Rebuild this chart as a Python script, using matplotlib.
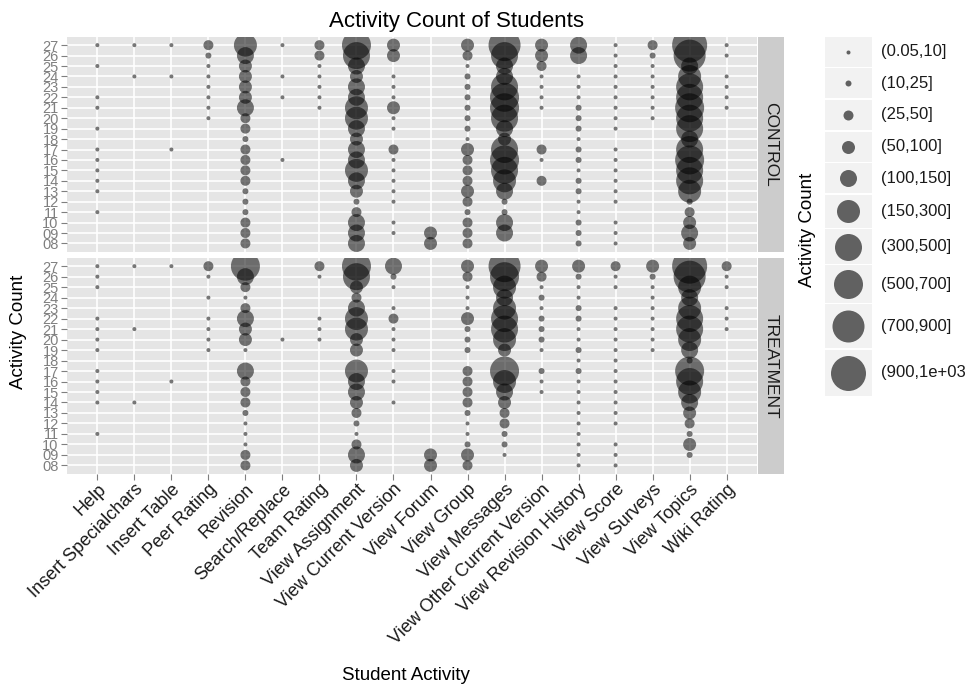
import numpy as np
import pandas as pd
import matplotlib
matplotlib.use("Agg")
import matplotlib.pyplot as plt
from matplotlib.patches import Rectangle

plt.rcParams['font.family'] = ['Liberation Sans', 'DejaVu Sans']

# ---------------- data ----------------
activities = ["Help", "Insert Specialchars", "Insert Table", "Peer Rating", "Revision",
              "Search/Replace", "Team Rating", "View Assignment", "View Current Version",
              "View Forum", "View Group", "View Messages", "View Other Current Version",
              "View Revision History", "View Score", "View Surveys", "View Topics", "Wiki Rating"]

# students listed from top (27) to bottom (08)
students = ["27", "26", "25", "24", "23", "22", "21", "20", "19", "18",
            "17", "16", "15", "14", "13", "12", "11", "10", "09", "08"]

groups = ["CONTROL", "TREATMENT"]

bin_edges = [0.05, 10, 25, 50, 100, 150, 300, 500, 700, 900, 1000]
bin_labels = ["(0.05,10]", "(10,25]", "(25,50]", "(50,100]", "(100,150]",
              "(150,300]", "(300,500]", "(500,700]", "(700,900]", "(900,1e+03"]

# activity counts per activity (rows) and student (columns, 27 -> 08)
control_counts = [
    [6, 0, 6, 0, 0, 6, 6, 0, 6, 0, 6, 6, 6, 6, 6, 0, 6, 0, 0, 0],                                  # Help
    [6, 0, 0, 6, 0, 0, 0, 0, 0, 0, 0, 0, 0, 0, 0, 0, 0, 0, 0, 0],                                  # Insert Specialchars
    [6, 0, 0, 6, 0, 0, 0, 0, 0, 0, 6, 0, 0, 0, 0, 0, 0, 0, 0, 0],                                  # Insert Table
    [40, 18, 6, 6, 6, 6, 6, 6, 0, 0, 0, 0, 0, 0, 0, 0, 0, 0, 0, 0],                                # Peer Rating
    [220, 130, 75, 75, 75, 75, 130, 40, 40, 18, 40, 40, 40, 40, 18, 18, 18, 40, 40, 40],           # Revision
    [6, 0, 0, 6, 0, 6, 0, 0, 0, 0, 0, 6, 0, 0, 0, 0, 0, 0, 0, 0],                                  # Search/Replace
    [40, 40, 6, 6, 6, 6, 6, 0, 0, 0, 0, 0, 0, 0, 0, 0, 0, 0, 0, 0],                                # Team Rating
    [600, 400, 130, 75, 130, 130, 220, 220, 130, 75, 130, 130, 220, 130, 75, 18, 40, 130, 130, 130],  # View Assignment
    [75, 75, 0, 6, 6, 6, 75, 6, 6, 0, 40, 6, 6, 6, 6, 6, 0, 6, 6, 0],                              # View Current Version
    [0, 0, 0, 0, 0, 0, 0, 0, 0, 0, 0, 0, 0, 0, 0, 0, 0, 0, 75, 75],                                # View Forum
    [75, 40, 6, 18, 18, 18, 18, 18, 18, 6, 75, 40, 40, 40, 75, 40, 18, 40, 40, 40],                # View Group
    [800, 400, 130, 130, 400, 600, 600, 400, 130, 75, 400, 600, 400, 220, 130, 18, 18, 130, 130, 0],  # View Messages
    [75, 75, 40, 6, 6, 6, 6, 0, 0, 0, 40, 6, 0, 40, 0, 0, 0, 0, 0, 0],                             # View Other Current Version
    [130, 130, 0, 6, 6, 6, 18, 18, 18, 6, 18, 18, 6, 18, 18, 6, 6, 18, 18, 18],                    # View Revision History
    [6, 6, 6, 6, 6, 6, 6, 6, 6, 0, 6, 6, 6, 6, 6, 6, 0, 6, 6, 6],                                  # View Score
    [40, 18, 6, 6, 6, 6, 6, 6, 0, 0, 0, 0, 0, 0, 0, 0, 0, 0, 0, 0],                                # View Surveys
    [950, 800, 130, 220, 400, 400, 600, 400, 400, 130, 400, 600, 400, 400, 220, 18, 40, 75, 130, 75],  # View Topics
    [6, 6, 0, 6, 6, 6, 6, 0, 0, 0, 0, 0, 0, 0, 0, 0, 0, 0, 0, 0],                                  # Wiki Rating
]

treatment_counts = [
    [6, 6, 6, 0, 0, 6, 6, 6, 6, 0, 6, 6, 6, 6, 0, 0, 6, 0, 0, 0],                                  # Help
    [6, 0, 0, 0, 0, 0, 6, 0, 0, 0, 0, 0, 0, 6, 0, 0, 0, 0, 0, 0],                                  # Insert Specialchars
    [6, 0, 0, 0, 0, 0, 0, 0, 0, 0, 0, 6, 0, 0, 0, 0, 0, 0, 0, 0],                                  # Insert Table
    [40, 6, 0, 6, 0, 6, 6, 6, 6, 0, 0, 0, 0, 0, 0, 0, 0, 0, 0, 0],                                 # Peer Rating
    [600, 130, 40, 6, 40, 130, 75, 75, 6, 0, 130, 40, 40, 40, 18, 6, 6, 6, 40, 40],                # Revision
    [0, 0, 0, 0, 0, 0, 0, 6, 0, 0, 0, 0, 0, 0, 0, 0, 0, 0, 0, 0],                                  # Search/Replace
    [40, 6, 0, 0, 0, 6, 6, 6, 0, 0, 0, 0, 0, 0, 0, 0, 0, 0, 0, 0],                                 # Team Rating
    [600, 400, 75, 40, 130, 220, 220, 75, 75, 0, 220, 130, 130, 75, 40, 18, 6, 40, 130, 75],       # View Assignment
    [130, 18, 6, 0, 6, 40, 6, 6, 6, 0, 6, 6, 0, 6, 0, 0, 0, 0, 0, 0],                              # View Current Version
    [0, 0, 0, 0, 0, 0, 0, 0, 0, 0, 0, 0, 0, 0, 0, 0, 0, 0, 75, 75],                                # View Forum
    [75, 40, 6, 6, 6, 75, 18, 18, 18, 0, 40, 40, 40, 40, 18, 6, 6, 18, 75, 40],                    # View Group
    [800, 600, 220, 130, 220, 400, 400, 220, 75, 0, 600, 220, 130, 75, 40, 40, 18, 18, 6, 0],      # View Messages
    [75, 40, 6, 18, 6, 18, 18, 18, 6, 0, 18, 6, 6, 0, 0, 0, 0, 0, 0, 0],                           # View Other Current Version
    [75, 18, 6, 6, 18, 18, 6, 6, 18, 6, 18, 6, 6, 6, 6, 6, 6, 6, 6, 6],                            # View Revision History
    [40, 6, 6, 0, 6, 6, 6, 6, 6, 6, 6, 6, 6, 6, 6, 6, 0, 6, 6, 6],                                 # View Score
    [75, 18, 6, 6, 6, 6, 6, 6, 6, 0, 0, 0, 0, 0, 0, 0, 0, 0, 0, 0],                                # View Surveys
    [950, 800, 220, 130, 220, 400, 400, 220, 130, 18, 600, 400, 220, 130, 75, 40, 18, 75, 18, 0],  # View Topics
    [40, 6, 6, 0, 6, 6, 6, 0, 0, 0, 0, 0, 0, 0, 0, 0, 0, 0, 0, 0],                                 # Wiki Rating
]

# ---------------- styling ----------------
W, H = 970, 688
key_diam_px = [4, 6, 10, 13, 17, 23, 27, 29, 32, 35]   # marker diameter per bin
PT = 72.0 / 100.0
sizes_pt2 = [(d * PT) ** 2 for d in key_diam_px]
ALPHA = 0.53
PANEL_BG = "#e5e5e5"
STRIP_BG = "#cccccc"
GREY_TXT = "#7f7f7f"


def fx(px):
    return px / W


def fy(py):
    return 1 - py / H


fig = plt.figure(figsize=(W / 100, H / 100), dpi=100)

levels_bottom_up = students[::-1]  # "08" at bottom
panel_px = [(37, 252), (258, 474)]
left, right = 67, 757

for gi, (grp, counts) in enumerate(zip(groups, [control_counts, treatment_counts])):
    top, bot = panel_px[gi]
    ax = fig.add_axes([fx(left), fy(bot), fx(right - left), (bot - top) / H])
    ax.set_facecolor(PANEL_BG)
    for s in ax.spines.values():
        s.set_visible(False)

    df = pd.DataFrame(counts, index=activities, columns=students)
    long = df.stack().reset_index()
    long.columns = ["activity", "student", "count"]
    long = long[long["count"] > 0].copy()
    long["bin"] = pd.cut(long["count"], bins=bin_edges, labels=False)
    xs = long["activity"].map({a: i for i, a in enumerate(activities)}).values
    ys = long["student"].map({s: i for i, s in enumerate(levels_bottom_up)}).values
    ss = [sizes_pt2[int(b)] for b in long["bin"].values]
    ax.scatter(xs, ys, s=ss, c="black", alpha=ALPHA, linewidths=0, zorder=3)

    ax.set_xlim(-0.82, len(activities) - 1 + 0.82)
    ax.set_ylim(-0.82, len(students) - 1 + 0.78)
    ax.set_xticks(range(len(activities)))
    ax.set_yticks(range(len(students)))
    ax.set_yticklabels(levels_bottom_up, fontsize=10.5, color=GREY_TXT)
    ax.grid(True, color="white", lw=1.2)
    ax.set_axisbelow(True)
    ax.tick_params(axis="y", length=4, width=0.8, color=GREY_TXT, pad=2)
    if gi == 0:
        ax.tick_params(axis="x", length=0, labelbottom=False)
    else:
        ax.tick_params(axis="x", length=4, width=0.8, color=GREY_TXT, pad=1)
        ax.set_xticklabels(activities, rotation=45, ha="right", va="top",
                           rotation_mode="anchor", fontsize=13, color="#1a1a1a")

    # strip
    sax = fig.add_axes([fx(758), fy(bot), fx(26), (bot - top) / H])
    sax.set_facecolor(STRIP_BG)
    for s in sax.spines.values():
        s.set_visible(False)
    sax.set_xticks([])
    sax.set_yticks([])
    sax.text(0.5, 0.5, grp, rotation=270, ha="center", va="center",
             fontsize=12.5, color="#1a1a1a", transform=sax.transAxes)

# titles
fig.text(fx(457), fy(22), "Activity Count of Students", ha="center", va="center",
         fontsize=16, color="black")
fig.text(fx(406), fy(676), "Student Activity", ha="center", va="center",
         fontsize=13.5, color="black")
fig.text(fx(19), fy(332), "Activity Count", ha="center", va="center",
         rotation=90, fontsize=13.5, color="black")

# ---------------- legend ----------------
leg_left, leg_right = 825, 872
key_bounds = [36, 67.5, 99, 131, 162.5, 194, 228.5, 264.5, 303.5, 349, 397]
lax = fig.add_axes([fx(leg_left), fy(key_bounds[-1]), fx(leg_right - leg_left),
                    (key_bounds[-1] - key_bounds[0]) / H])
lax.set_xlim(leg_left, leg_right)
lax.set_ylim(key_bounds[-1], key_bounds[0])
lax.axis("off")
for i, lab in enumerate(bin_labels):
    y0, y1 = key_bounds[i], key_bounds[i + 1]
    lax.add_patch(Rectangle((leg_left, y0 + 0.6), leg_right - leg_left, y1 - y0 - 1.2,
                            facecolor="#f2f2f2", edgecolor="none"))
    yc = (y0 + y1) / 2
    lax.scatter([(leg_left + leg_right) / 2], [yc], s=sizes_pt2[i], c="black",
                alpha=0.6, linewidths=0, clip_on=False)
    fig.text(fx(881), fy(yc), lab, ha="left", va="center", fontsize=12, color="#1a1a1a")

fig.text(fx(808), fy(230), "Activity Count", ha="center", va="center",
         rotation=90, fontsize=13.5, color="black")

fig.savefig("out.png", dpi=100)
